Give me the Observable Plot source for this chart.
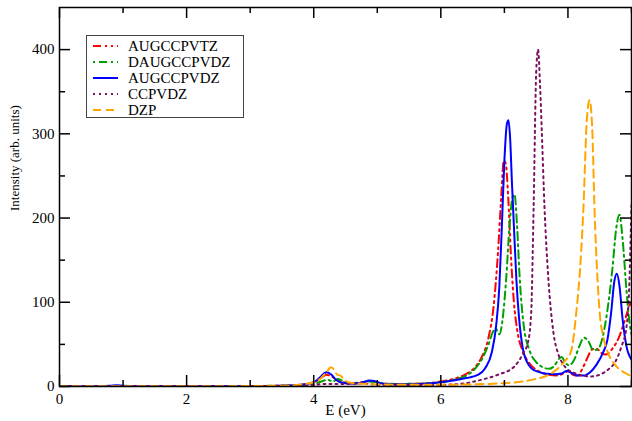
<!DOCTYPE html>
<html><head><meta charset="utf-8">
<script src="https://cdn.jsdelivr.net/npm/d3@7"></script>
<script src="https://cdn.jsdelivr.net/npm/@observablehq/plot@0.6"></script>
<style>
body{margin:0;background:#fff;}
#wrap{position:relative;width:632px;height:421px;font-family:"Liberation Serif",serif;}
#wrap svg text{font-family:"Liberation Serif",serif !important;}
#legend{position:absolute;left:86px;top:35px;width:158px;height:83px;border:1px solid #444;background:#fff;box-sizing:border-box;}
#legend svg{overflow:visible;}
</style></head><body><div id="wrap"><div id="legend"></div></div>
<script>
const names = ["AUGCCPVTZ","DAUGCCPVDZ","AUGCCPVDZ","CCPVDZ","DZP"];
const xMajor = [0,2,4,6,8];
const xMinor = [1,3,5,7,9];
const yMajor = [0,100,200,300,400];
const yMinor = [50,150,250,350];
const xLabel = "E (eV)";
const yLabel = "Intensity (arb. units)";

const AUGCCPVTZ = [[0,0.2],[2,0.3],[3,0.5],[3.5,1],[3.8,2],[4.0,5],[4.1,9],[4.2,14],[4.28,12],[4.36,8],[4.45,5],[4.6,4],[4.75,5],[4.88,6.5],[4.95,6],[5.05,4],[5.3,3],[5.7,3.5],[6.0,6],[6.2,9],[6.4,15],[6.55,24],[6.65,36],[6.75,58],[6.83,95],[6.9,160],[6.95,225],[6.99,268],[7.02,265],[7.06,225],[7.1,160],[7.15,100],[7.2,68],[7.3,40],[7.4,27],[7.5,20],[7.6,16],[7.7,14],[7.82,13],[7.92,15],[8.0,18],[8.08,14],[8.15,13],[8.22,20],[8.3,33],[8.38,44],[8.45,45],[8.52,40],[8.6,38],[8.7,45],[8.8,58],[8.88,75],[8.95,92],[9.0,102]];
const DAUGCCPVDZ = [[0,0.2],[2,0.3],[3,0.5],[3.5,1],[3.8,1.5],[4.0,3],[4.12,6],[4.22,8],[4.3,6],[4.38,9],[4.45,7],[4.55,4],[4.7,4],[4.85,6],[4.95,5.5],[5.05,4],[5.3,3],[5.7,3.5],[6.0,5],[6.2,8],[6.4,13],[6.55,22],[6.65,33],[6.75,50],[6.82,65],[6.86,69],[6.92,62],[6.98,85],[7.03,130],[7.08,190],[7.13,225],[7.16,228],[7.2,190],[7.24,130],[7.3,75],[7.4,42],[7.5,29],[7.6,23],[7.7,21],[7.78,24],[7.86,33],[7.9,35],[7.96,28],[8.02,25],[8.1,32],[8.18,48],[8.25,58],[8.32,54],[8.4,43],[8.47,44],[8.55,60],[8.62,90],[8.7,140],[8.76,188],[8.81,204],[8.86,175],[8.92,115],[8.97,75],[9.0,62]];
const AUGCCPVDZ = [[0,0.3],[0.6,0.4],[0.8,0.9],[0.9,1.5],[1.0,0.9],[1.2,0.4],[2,0.3],[3,0.5],[3.5,0.9],[3.8,2],[4.0,5],[4.1,11],[4.2,17],[4.28,14],[4.35,8],[4.45,4.5],[4.6,3.5],[4.75,4.5],[4.88,7],[4.95,6.5],[5.05,4],[5.2,2.5],[5.5,2.5],[5.8,3.5],[6.0,5],[6.2,7],[6.4,10],[6.59,14],[6.7,22],[6.8,40],[6.87,72],[6.92,118],[6.96,190],[7.0,268],[7.04,312],[7.065,316],[7.09,295],[7.12,240],[7.15,190],[7.19,125],[7.23,82],[7.29,45],[7.35,30],[7.42,22],[7.55,17],[7.66,15],[7.8,14.5],[7.9,15.5],[7.98,18.5],[8.06,16],[8.15,13],[8.25,13],[8.35,17],[8.45,26],[8.55,40],[8.62,55],[8.68,88],[8.73,125],[8.77,134],[8.81,120],[8.86,80],[8.92,48],[9.0,32]];
const CCPVDZ = [[0,0.2],[2,0.3],[3,0.5],[3.5,0.8],[4.0,2],[4.2,3],[4.5,3],[4.8,3.5],[5.0,2],[5.5,1.5],[6.0,2],[6.3,3],[6.64,8],[6.9,14],[7.16,24],[7.3,40],[7.37,52],[7.42,85],[7.46,213],[7.5,372],[7.53,400],[7.56,360],[7.59,300],[7.63,215],[7.69,130],[7.77,65],[7.85,38],[7.92,27],[8.1,16],[8.37,12],[8.5,14],[8.63,20],[8.75,30],[8.84,47],[8.92,70],[8.96,110],[9.0,215]];
const DZP = [[0,0.2],[2,0.3],[3,0.6],[3.5,1],[3.8,2.5],[4.0,5],[4.1,9],[4.2,17],[4.27,23],[4.32,20],[4.37,14],[4.42,13],[4.47,9],[4.55,5],[4.7,3.5],[5.0,2.5],[5.5,2],[6.0,2],[6.5,2.5],[7.0,4],[7.3,6],[7.5,9],[7.7,14],[7.85,22],[7.95,30],[8.05,42],[8.13,87],[8.2,150],[8.24,206],[8.3,320],[8.34,340],[8.38,310],[8.42,206],[8.46,135],[8.5,87],[8.56,58],[8.63,40],[8.75,25],[8.9,16],[9.0,12]];

const seriesData = [AUGCCPVTZ, DAUGCCPVDZ, AUGCCPVDZ, CCPVDZ, DZP];
const colors = ["#ff0000","#00a000","#0000ff","#7a1060","#ffa500"];
const dashes = ["8,4,2,4,2,4","2,4,8,4",null,"2,4","8,5"];

const xDom = [0, 9], yDom = [0, 450];
const marginLeft = 59, marginRight = 1, marginTop = 7, marginBottom = 35, W = 632, H = 421;
// tick lengths converted from pixels to data units
const pxX = (xDom[1] - xDom[0]) / (W - marginLeft - marginRight);
const pxY = (yDom[1] - yDom[0]) / (H - marginTop - marginBottom);

const marks = [];
seriesData.forEach((d, i) => {
  marks.push(Plot.line(d, {x: p => p[0], y: p => p[1], stroke: colors[i], strokeWidth: 2,
    strokeDasharray: dashes[i], curve: "monotone-x", clip: true}));
});
const font = {fontSize: 15, fontFamily: "Liberation Serif"};
const ts = {stroke: "#000", strokeWidth: 1.5};
marks.push(
  Plot.axisX({anchor: "bottom", ticks: xMajor, tickSize: 0, tickPadding: 7, ...font, label: null, color: "#000"}),
  Plot.axisY({anchor: "left", ticks: yMajor, tickSize: 0, tickPadding: 5, ...font, label: null, color: "#000"}),
  Plot.ruleX(xMajor, {x: d => d, y1: yDom[0], y2: yDom[0] + 11 * pxY, ...ts}),
  Plot.ruleX(xMinor, {x: d => d, y1: yDom[0], y2: yDom[0] + 6 * pxY, ...ts}),
  Plot.ruleX(xMajor, {x: d => d, y1: yDom[1], y2: yDom[1] - 11 * pxY, ...ts}),
  Plot.ruleX(xMinor, {x: d => d, y1: yDom[1], y2: yDom[1] - 6 * pxY, ...ts}),
  Plot.ruleY(yMajor, {y: d => d, x1: xDom[0], x2: xDom[0] + 11 * pxX, ...ts}),
  Plot.ruleY(yMinor, {y: d => d, x1: xDom[0], x2: xDom[0] + 6 * pxX, ...ts}),
  Plot.ruleY(yMajor, {y: d => d, x1: xDom[1], x2: xDom[1] - 11 * pxX, ...ts}),
  Plot.ruleY(yMinor, {y: d => d, x1: xDom[1], x2: xDom[1] - 6 * pxX, ...ts}),
  Plot.text([xLabel], {text: d => d, frameAnchor: "bottom", dy: 28, fontSize: 15, fontFamily: "Liberation Serif", fill: "#000"}),
  Plot.text([yLabel], {text: d => d, frameAnchor: "left", dx: -45, dy: 14, rotate: -90, fontSize: 13, fontFamily: "Liberation Serif", fill: "#000"}),
  Plot.frame({stroke: "#000", strokeWidth: 1.5})
);

const chart = Plot.plot({
  width: W, height: H,
  marginLeft, marginRight, marginTop, marginBottom,
  x: {domain: xDom},
  y: {domain: yDom},
  style: {fontFamily: "Liberation Serif", background: "#fff"},
  marks
});
document.getElementById("wrap").prepend(chart);

// legend
const leg = d3.select("#legend").append("svg").attr("width", 156).attr("height", 81)
  .style("font-family", "Liberation Serif");
names.forEach((n, i) => {
  const g = leg.append("g").attr("transform", `translate(0, ${10 + i * 16})`);
  g.append("line").attr("x1", 6).attr("x2", 31).attr("y1", 0).attr("y2", 0)
    .attr("stroke", colors[i]).attr("stroke-width", 2).attr("stroke-dasharray", dashes[i]);
  g.append("text").attr("x", 41).attr("y", 0).attr("dy", "0.35em").attr("font-size", 15).text(n);
});
</script>
</body></html>
